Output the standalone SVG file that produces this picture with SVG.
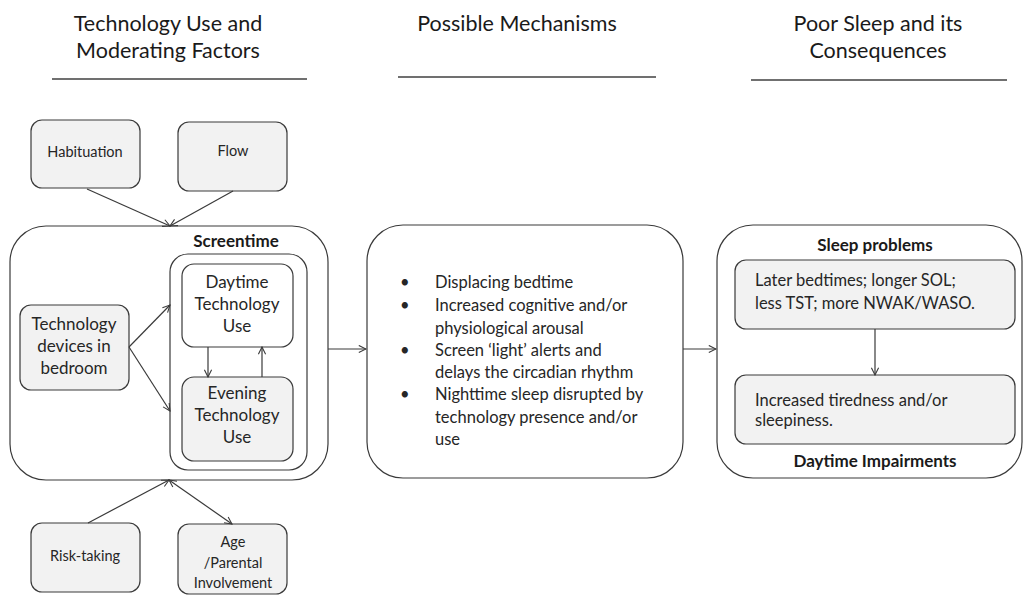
<svg xmlns="http://www.w3.org/2000/svg" width="1026" height="597" viewBox="0 0 1026 597">
  <style>
    .hdr { font-family: Lato, "Liberation Sans", sans-serif; font-size: 21.5px; fill: #1a1a1a; text-anchor: middle; }
    .rule { stroke: #404040; stroke-width: 1.3; }
    .box { fill: #ffffff; stroke: #3a3a3a; stroke-width: 1.2; }
    .grey { fill: #f2f2f2; stroke: #3a3a3a; stroke-width: 1.2; }
    .lbl { font-family: Lato, "Liberation Sans", sans-serif; font-size: 14.5px; fill: #262626; text-anchor: middle; }
    .big { font-family: Lato, "Liberation Sans", sans-serif; font-size: 17px; fill: #262626; text-anchor: middle; }
    .txt { font-family: Lato, "Liberation Sans", sans-serif; font-size: 16.5px; fill: #262626; }
    .bold { font-family: Lato, "Liberation Sans", sans-serif; font-size: 17px; font-weight: bold; fill: #1a1a1a; text-anchor: middle; }
    .conn { stroke: #3a3a3a; stroke-width: 1.2; fill: none; }
  </style>
  <defs>
    <marker id="arrow" viewBox="0 0 10 10" refX="9" refY="5" markerWidth="9" markerHeight="9" markerUnits="userSpaceOnUse" orient="auto-start-reverse">
      <path d="M1,1 L9,5 L1,9" fill="none" stroke="#3a3a3a" stroke-width="1.2"/>
    </marker>
  </defs>

  <rect width="1026" height="597" fill="#ffffff"/>

  <!-- column headings -->
  <g id="heading-technology">
    <text class="hdr" x="168" y="31">Technology Use and</text>
    <text class="hdr" x="168" y="58">Moderating Factors</text>
    <line class="rule" x1="52" y1="79" x2="307" y2="79"/>
  </g>
  <g id="heading-mechanisms">
    <text class="hdr" x="517" y="31">Possible Mechanisms</text>
    <line class="rule" x1="398" y1="77" x2="656" y2="77"/>
  </g>
  <g id="heading-sleep">
    <text class="hdr" x="878" y="31">Poor Sleep and its</text>
    <text class="hdr" x="878" y="58">Consequences</text>
    <line class="rule" x1="751" y1="80" x2="1007" y2="80"/>
  </g>

  <!-- moderating factors -->
  <g id="habituation">
    <rect class="grey" x="31" y="120" width="109" height="68" rx="11"/>
    <text class="lbl" x="85" y="157">Habituation</text>
  </g>
  <g id="flow">
    <rect class="grey" x="178" y="122" width="109" height="69" rx="11"/>
    <text class="lbl" x="233" y="156">Flow</text>
  </g>

  <!-- screentime container -->
  <g id="screentime">
    <rect class="box" x="10" y="226" width="318" height="254" rx="36"/>
    <text class="bold" x="236" y="247">Screentime</text>
    <rect class="box" x="170" y="254" width="137" height="216" rx="18"/>
  </g>
  <g id="daytime-use">
    <rect class="box" x="182" y="264" width="111" height="83" rx="12"/>
    <text class="big" x="237" y="288">Daytime</text>
    <text class="big" x="237" y="310">Technology</text>
    <text class="big" x="237" y="332">Use</text>
  </g>
  <g id="evening-use">
    <rect class="grey" x="182" y="377" width="111" height="84" rx="12"/>
    <text class="big" x="237" y="399">Evening</text>
    <text class="big" x="237" y="421">Technology</text>
    <text class="big" x="237" y="443">Use</text>
  </g>
  <g id="devices-in-bedroom">
    <rect class="grey" x="20" y="305" width="109" height="85" rx="11"/>
    <text class="big" x="74" y="330">Technology</text>
    <text class="big" x="74" y="352">devices in</text>
    <text class="big" x="74" y="374">bedroom</text>
  </g>

  <g id="risk-taking">
    <rect class="grey" x="31" y="523" width="109" height="69" rx="11"/>
    <text class="lbl" x="85" y="561">Risk-taking</text>
  </g>
  <g id="age-parental">
    <rect class="grey" x="178" y="524" width="109" height="70" rx="11"/>
    <text class="lbl" x="233" y="547">Age</text>
    <text class="lbl" x="233" y="568">/Parental</text>
    <text class="lbl" x="233" y="588">Involvement</text>
  </g>

  <!-- mechanisms -->
  <g id="mechanisms">
    <rect class="box" x="367" y="225" width="316" height="253" rx="36"/>
    <g class="txt">
      <text x="400" y="288">•</text><text x="435" y="288">Displacing bedtime</text>
      <text x="400" y="311">•</text><text x="435" y="311">Increased cognitive and/or</text>
      <text x="435" y="334">physiological arousal</text>
      <text x="400" y="356">•</text><text x="435" y="356">Screen ‘light’ alerts and</text>
      <text x="435" y="378">delays the circadian rhythm</text>
      <text x="400" y="400">•</text><text x="435" y="400">Nighttime sleep disrupted by</text>
      <text x="435" y="423">technology presence and/or</text>
      <text x="435" y="445">use</text>
    </g>
  </g>

  <!-- sleep outcomes -->
  <g id="sleep-consequences">
    <rect class="box" x="717" y="225" width="305" height="253" rx="36"/>
    <text class="bold" x="875" y="251">Sleep problems</text>
    <text class="bold" x="875" y="467">Daytime Impairments</text>
  </g>
  <g id="sleep-problems">
    <rect class="grey" x="735" y="260" width="280" height="69" rx="11"/>
    <text class="txt" x="755" y="286">Later bedtimes; longer SOL;</text>
    <text class="txt" x="755" y="309">less TST; more NWAK/WASO.</text>
  </g>
  <g id="daytime-impairments">
    <rect class="grey" x="735" y="375" width="280" height="69" rx="11"/>
    <text class="txt" x="755" y="406">Increased tiredness and/or</text>
    <text class="txt" x="755" y="426">sleepiness.</text>
  </g>

  <!-- connectors -->
  <g id="connectors">
    <line class="conn" x1="87" y1="189" x2="170" y2="226" marker-end="url(#arrow)"/>
    <line class="conn" x1="233" y1="191" x2="170" y2="226" marker-end="url(#arrow)"/>
    <line class="conn" x1="129" y1="347" x2="170" y2="305" marker-end="url(#arrow)"/>
    <line class="conn" x1="129" y1="347" x2="170" y2="411" marker-end="url(#arrow)"/>
    <line class="conn" x1="208" y1="347" x2="208" y2="377" marker-end="url(#arrow)"/>
    <line class="conn" x1="262" y1="377" x2="262" y2="347" marker-end="url(#arrow)"/>
    <line class="conn" x1="88" y1="523" x2="169" y2="480" marker-end="url(#arrow)"/>
    <line class="conn" x1="169" y1="480" x2="232" y2="524" marker-start="url(#arrow)" marker-end="url(#arrow)"/>
    <line class="conn" x1="328" y1="349" x2="366" y2="349" marker-end="url(#arrow)"/>
    <line class="conn" x1="683" y1="349" x2="716" y2="349" marker-end="url(#arrow)"/>
    <line class="conn" x1="875" y1="329" x2="875" y2="375" marker-end="url(#arrow)"/>
  </g>
</svg>
